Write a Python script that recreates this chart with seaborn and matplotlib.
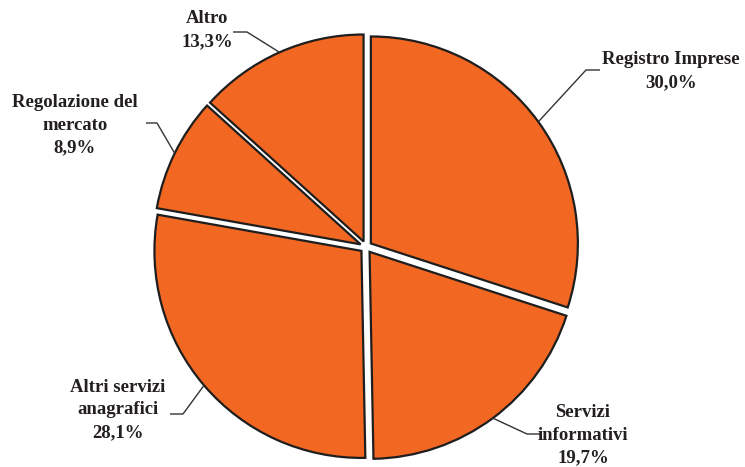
import numpy as np
import matplotlib
matplotlib.use("Agg")
import matplotlib.pyplot as plt
import seaborn as sns

sns.set_theme(style="white")
plt.rcParams["font.family"] = ["Liberation Serif", "DejaVu Serif"]

# Ripartizione delle attività
categories = ["Registro Imprese", "Servizi\ninformativi", "Altri servizi\nanagrafici",
              "Regolazione del\nmercato", "Altro"]
values = [30.0, 19.7, 28.1, 8.9, 13.3]
value_labels = ["30,0%", "19,7%", "28,1%", "8,9%", "13,3%"]

W, H = 745, 467
fig = plt.figure(figsize=(W / 100, H / 100), dpi=100)
ax = fig.add_axes([0, 0, 1, 1])

cx, cy, R = 366, H - 247, 207
explode = [6] * len(values)  # offset in data units (pixels)
wedges, _ = ax.pie(values, colors=["#F26722"] * len(values), startangle=90,
                   counterclock=False, explode=explode, center=(cx, cy), radius=R,
                   wedgeprops=dict(edgecolor="#1e1e1e", linewidth=1.6),
                   frame=True)
ax.set_xlim(0, W)
ax.set_ylim(0, H)
ax.set_aspect("equal")
ax.axis("off")

# text placement (pixel coordinates from top-left) and leader-line elbows
label_pos = [(671, 71), (583, 435), (118, 410), (75, 125), (207, 30)]
elbows = [((586, 70), (600, 70)), ((527, 434), (541, 434)), ((183, 414), (170, 414)),
          ((157, 123), (146, 123)), ((247, 32), (233, 32))]

for w, cat, vl, (lx, ly), (e1, e2) in zip(wedges, categories, value_labels, label_pos, elbows):
    mid = np.deg2rad((w.theta1 + w.theta2) / 2)
    px = w.center[0] + w.r * np.cos(mid)
    py = w.center[1] + w.r * np.sin(mid)
    ax.plot([px, e1[0], e2[0]], [py, H - e1[1], H - e2[1]], color="#333333", lw=1.0,
            solid_capstyle="butt")
    ax.text(lx, H - ly, f"{cat}\n{vl}", ha="center", va="center", fontsize=13.5,
            fontweight="bold", color="#231f20", linespacing=1.45)

fig.savefig("out.png", dpi=100, facecolor="white")
